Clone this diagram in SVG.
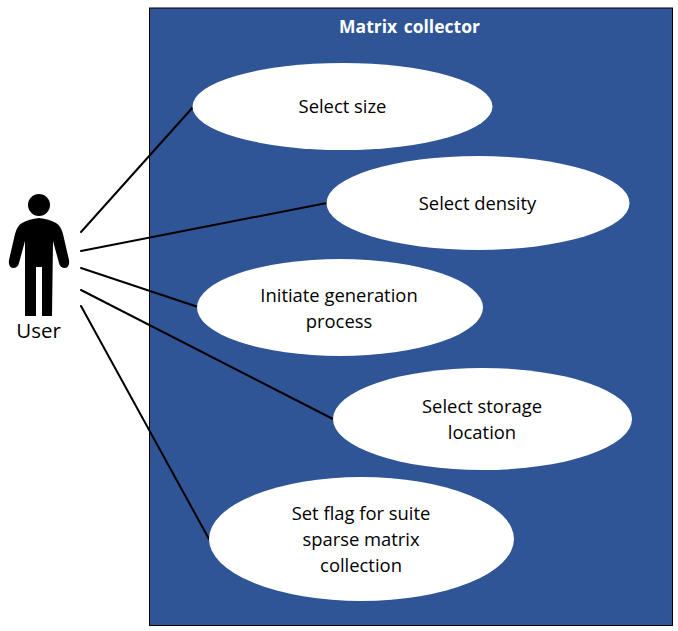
<svg xmlns="http://www.w3.org/2000/svg" width="678" height="631" viewBox="0 0 678 631">
<style>
.uc{fill:#fff}
.t{font-family:"Open Sans","Noto Sans",sans-serif;font-size:18.400px;fill:#000;text-anchor:middle}
.c line{stroke:#000;stroke-width:2;stroke-linecap:round}
</style>
<rect width="678" height="631" fill="#fff"/>
<g id="boundary">
<rect x="149.500" y="8" width="523" height="617.500" fill="#2f5597" stroke="#000" stroke-width="1"/>
<text x="409.500" y="33" font-family="'Open Sans','Noto Sans',sans-serif" font-size="17.500" font-weight="700" word-spacing="2" fill="#fff" text-anchor="middle">Matrix collector</text>
</g>
<g id="actor-user">
<circle cx="39" cy="205" r="11" fill="#000"/>
<path d="M22 223 Q29 219 39 218 Q49 219 56 223 Q61 226 63 234 L69 260 Q70 267 65 268 Q60 268 59 263 L53 241 L52 316 L42 316 L42 267 L36 267 L36 316 L25 316 L25 241 L19 263 Q18 268 13 268 Q8 267 9 260 L15 234 Q17 226 22 223Z" fill="#000"/>
<text x="38.500" y="338" font-family="'Open Sans','Noto Sans',sans-serif" font-size="20.500" fill="#000" text-anchor="middle">User</text>
</g>
<g id="connectors" class="c">
<line x1="81" y1="232" x2="194" y2="106"/>
<line x1="81" y1="251" x2="327" y2="203"/>
<line x1="81" y1="268" x2="198" y2="307"/>
<line x1="81" y1="290" x2="333" y2="419"/>
<line x1="81" y1="306" x2="209" y2="539"/>
</g>
<g id="uc-size"><ellipse class="uc" cx="342.500" cy="106.500" rx="150" ry="43.500"/><text class="t" x="342.500" y="112.500">Select size</text></g>
<g id="uc-density"><ellipse class="uc" cx="478" cy="203" rx="151.500" ry="47"/><text class="t" x="477.500" y="209.500">Select density</text></g>
<g id="uc-generation"><ellipse class="uc" cx="340" cy="307.500" rx="143" ry="48.500"/><text class="t" x="339" y="301.500">Initiate generation</text><text class="t" x="339" y="327.500">process</text></g>
<g id="uc-storage"><ellipse class="uc" cx="482.500" cy="419" rx="149.500" ry="51"/><text class="t" x="482" y="412.500">Select storage</text><text class="t" x="482" y="438.500">location</text></g>
<g id="uc-flag"><ellipse class="uc" cx="361.500" cy="539" rx="152.500" ry="62"/><text class="t" x="361" y="519.500">Set flag for suite</text><text class="t" x="361" y="545.500">sparse matrix</text><text class="t" x="361" y="571.500">collection</text></g>
</svg>
